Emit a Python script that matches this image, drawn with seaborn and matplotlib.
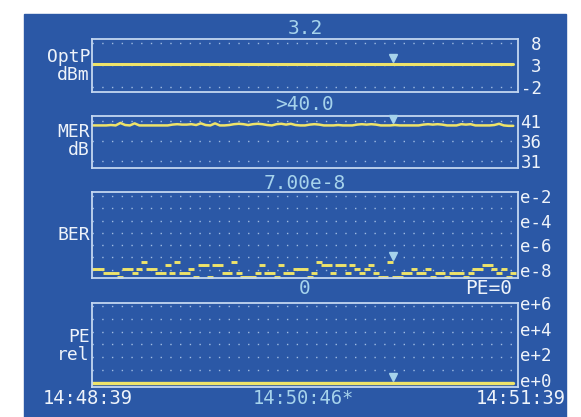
import seaborn as sns
import matplotlib.pyplot as plt
import matplotlib.transforms as mtransforms
from matplotlib.patches import Rectangle
from matplotlib.ticker import FixedLocator, NullFormatter

# time axis: seconds after 14:48:39, one sample every 2 s
times = list(range(0, 180, 2))
marker_time = 127  # 14:50:46
marker_index = 63

optp_dbm = [
    3.2, 3.2, 3.2, 3.2, 3.2, 3.2, 3.2, 3.2, 3.2, 3.2, 3.2, 3.2, 3.2, 3.2, 3.2,
    3.2, 3.2, 3.2, 3.2, 3.2, 3.2, 3.2, 3.2, 3.2, 3.2, 3.2, 3.2, 3.2, 3.2, 3.2,
    3.2, 3.2, 3.2, 3.2, 3.2, 3.2, 3.2, 3.2, 3.2, 3.2, 3.2, 3.2, 3.2, 3.2, 3.2,
    3.2, 3.2, 3.2, 3.2, 3.2, 3.2, 3.2, 3.2, 3.2, 3.2, 3.2, 3.2, 3.2, 3.2, 3.2,
    3.2, 3.2, 3.2, 3.2, 3.2, 3.2, 3.2, 3.2, 3.2, 3.2, 3.2, 3.2, 3.2, 3.2, 3.2,
    3.2, 3.2, 3.2, 3.2, 3.2, 3.2, 3.2, 3.2, 3.2, 3.2, 3.2, 3.2, 3.2, 3.2, 3.2,
]
mer_db = [
    39.8, 39.8, 39.8, 39.8, 39.9, 39.8, 40.4, 39.9, 39.8, 40.3,
    39.8, 39.8, 39.8, 39.8, 39.8, 39.8, 39.8, 40.0, 40.1, 40.0,
    40.0, 40.1, 39.9, 40.3, 39.9, 39.8, 40.3, 39.8, 39.8, 39.9,
    40.1, 40.2, 40.1, 39.9, 40.1, 40.2, 40.1, 39.9, 39.8, 40.1,
    40.2, 40.0, 40.2, 39.9, 39.8, 39.8, 40.0, 40.1, 40.0, 39.8,
    39.8, 39.8, 39.9, 39.8, 39.8, 39.8, 40.0, 40.1, 40.0, 40.1,
    40.0, 39.8, 39.8, 39.8, 39.9, 39.8, 39.8, 39.8, 39.8, 39.8,
    40.0, 40.1, 40.0, 40.1, 40.0, 39.8, 39.8, 39.8, 40.1, 40.0,
    40.1, 39.8, 39.8, 39.8, 39.8, 39.9, 40.2, 39.8, 39.7, 39.7,
]
ber = [
    1.2e-8, 1.2e-8, 1.2e-8, 5.5e-9, 5.5e-9, 5.5e-9, 2.6e-9, 1.2e-8, 1.2e-8, 5.5e-9,
    1.2e-8, 4.5e-8, 1.2e-8, 1.2e-8, 5.5e-9, 5.5e-9, 2.5e-8, 5.5e-9, 4.5e-8, 5.5e-9,
    5.5e-9, 1.2e-8, 2.6e-9, 2.5e-8, 2.5e-8, 2.6e-9, 2.5e-8, 2.5e-8, 5.5e-9, 5.5e-9,
    4.5e-8, 5.5e-9, 2.6e-9, 2.6e-9, 2.6e-9, 5.5e-9, 2.5e-8, 5.5e-9, 5.5e-9, 2.6e-9,
    2.5e-8, 5.5e-9, 5.5e-9, 1.2e-8, 1.2e-8, 1.2e-8, 2.6e-9, 5.5e-9, 4.5e-8, 2.5e-8,
    2.5e-8, 5.5e-9, 2.5e-8, 2.5e-8, 5.5e-9, 2.5e-8, 1.2e-8, 5.5e-9, 1.2e-8, 2.5e-8,
    5.5e-9, 2.6e-9, 2.6e-9, 4.5e-8, 2.6e-9, 2.6e-9, 5.5e-9, 5.5e-9, 1.2e-8, 5.5e-9,
    5.5e-9, 1.2e-8, 2.6e-9, 5.5e-9, 5.5e-9, 2.6e-9, 5.5e-9, 5.5e-9, 5.5e-9, 2.6e-9,
    5.5e-9, 1.2e-8, 1.2e-8, 2.5e-8, 2.5e-8, 1.2e-8, 5.5e-9, 1.2e-8, 2.6e-9, 5.5e-9,
]
pe_rel = [
    0, 0, 0, 0, 0, 0, 0, 0, 0, 0, 0, 0, 0, 0, 0, 0, 0, 0, 0, 0, 0, 0, 0, 0, 0, 0, 0, 0, 0, 0,
    0, 0, 0, 0, 0, 0, 0, 0, 0, 0, 0, 0, 0, 0, 0, 0, 0, 0, 0, 0, 0, 0, 0, 0, 0, 0, 0, 0, 0, 0,
    0, 0, 0, 0, 0, 0, 0, 0, 0, 0, 0, 0, 0, 0, 0, 0, 0, 0, 0, 0, 0, 0, 0, 0, 0, 0, 0, 0, 0, 0,
]

optp_ticks = [-2, 3, 8]
mer_ticks = [31, 36, 41]
ber_ticks = [1e-2, 1e-4, 1e-6, 1e-8]
ber_minor = [1e-3, 1e-5, 1e-7]
ber_labels = ["e-2", "e-4", "e-6", "e-8"]
pe_ticks = [0, 2, 4, 6]
pe_minor = [1, 3, 5]
pe_labels = ["e+0", "e+2", "e+4", "e+6"]

titles = ["3.2", ">40.0", "7.00e-8", "0"]
names = ["OptP\ndBm", "MER\ndB", "BER", "PE\nrel"]
time_labels = ["14:48:39", "14:50:46*", "14:51:39"]

BLUE = "#2b58a6"
YELLOW = "#eee36a"
CYAN = "#a6d3ec"
WHITE = "#eef3fa"
FRAME = "#c3d7f1"
DOTS = "#9fbbe2"

sns.set_style("white", {"axes.facecolor": BLUE})
plt.rcParams["font.family"] = ["DejaVu Sans Mono", "DejaVu Sans"]

W, H = 581, 417
fig = plt.figure(figsize=(W / 100, H / 100), dpi=100, facecolor="white")
fig.add_artist(Rectangle((24 / W, 0), 542 / W, (H - 14) / H,
                         transform=fig.transFigure, color=BLUE, zorder=0))


def add_panel(top, bottom):
    return fig.add_axes([92 / W, 1 - bottom / H, 426 / W, (bottom - top) / H])


ax1 = add_panel(39, 92)
ax2 = add_panel(116, 168)
ax3 = add_panel(192, 278)
ax4 = add_panel(303, 387)
axes = [ax1, ax2, ax3, ax4]

sns.lineplot(x=times, y=optp_dbm, ax=ax1, color=YELLOW, lw=2.2)
sns.lineplot(x=times, y=mer_db, ax=ax2, color=YELLOW, lw=1.8)
sns.lineplot(x=times, y=ber, ax=ax3, color=YELLOW, linestyle="", marker="_",
             markersize=3.8, markeredgewidth=2.1, markeredgecolor=YELLOW)
sns.lineplot(x=times, y=pe_rel, ax=ax4, color=YELLOW, lw=2.4)

ax1.set_ylim(-3.1, 8.9)
ax2.set_ylim(29.4, 42.1)
ax3.set_yscale("log")
ax3.set_ylim(10 ** -8.67, 10 ** -1.67)
ax4.set_ylim(-0.31, 6.23)

ax1.set_yticks(optp_ticks)
ax1.set_yticklabels([str(t) for t in optp_ticks], ha="right")
ax2.set_yticks(mer_ticks)
ax2.set_yticklabels([str(t) for t in mer_ticks], ha="right")
ax3.set_yticks(ber_ticks)
ax3.set_yticklabels(ber_labels)
ax3.yaxis.set_minor_locator(FixedLocator(ber_minor))
ax3.yaxis.set_minor_formatter(NullFormatter())
ax4.set_yticks(pe_ticks)
ax4.set_yticklabels(pe_labels)
ax4.yaxis.set_minor_locator(FixedLocator(pe_minor))

series = [optp_dbm, mer_db, ber, pe_rel]
for i, ax in enumerate(axes):
    ax.set_xlim(0, 180)
    ax.set_xticks([])
    ax.set_xlabel("")
    ax.yaxis.tick_right()
    pad = 17 if i < 2 else 1.5
    ax.tick_params(axis="y", which="both", length=0, pad=pad,
                   labelcolor=WHITE, labelsize=12.5)
    ax.grid(axis="y", which="both", color=DOTS, linestyle=(0, (1, 6)), lw=1)
    ax.set_axisbelow(True)
    for sp in ax.spines.values():
        sp.set_color(FRAME)
        sp.set_linewidth(1.3)
    # cursor marker just above the trace
    mark = mtransforms.offset_copy(ax.transData, fig=fig, y=6, units="dots")
    ax.plot([marker_time], [series[i][marker_index]], marker="v", color=CYAN,
            markersize=6, transform=mark, clip_on=False, zorder=5)

# the e+N labels sit a touch above their dotted rows
lift = mtransforms.ScaledTranslation(0, 3 / 100, fig.dpi_scale_trans)
for lbl in ax4.get_yticklabels():
    lbl.set_transform(lbl.get_transform() + lift)


def fx(x):
    return x / W


def fy(y):
    return 1 - y / H


# values above each panel
for title, y in zip(titles, [28, 105, 184, 289]):
    fig.text(fx(305), fy(y), title, color=CYAN, fontsize=14, ha="center", va="center")
fig.text(fx(512), fy(289), "PE=0", color=WHITE, fontsize=14, ha="right", va="center")

# panel names on the left
for name, y in zip(names, [66, 141, 235, 346]):
    fig.text(fx(90), fy(y), name, color=WHITE, fontsize=13, ha="right",
             va="center", multialignment="right", linespacing=1.05)

# time labels
fig.text(fx(43), fy(399), time_labels[0], color=WHITE, fontsize=13.5, ha="left", va="center")
fig.text(fx(303), fy(399), time_labels[1], color=CYAN, fontsize=13.5, ha="center", va="center")
fig.text(fx(566), fy(399), time_labels[2], color=WHITE, fontsize=13.5, ha="right", va="center")

fig.savefig("out.png", dpi=100, facecolor="white")
